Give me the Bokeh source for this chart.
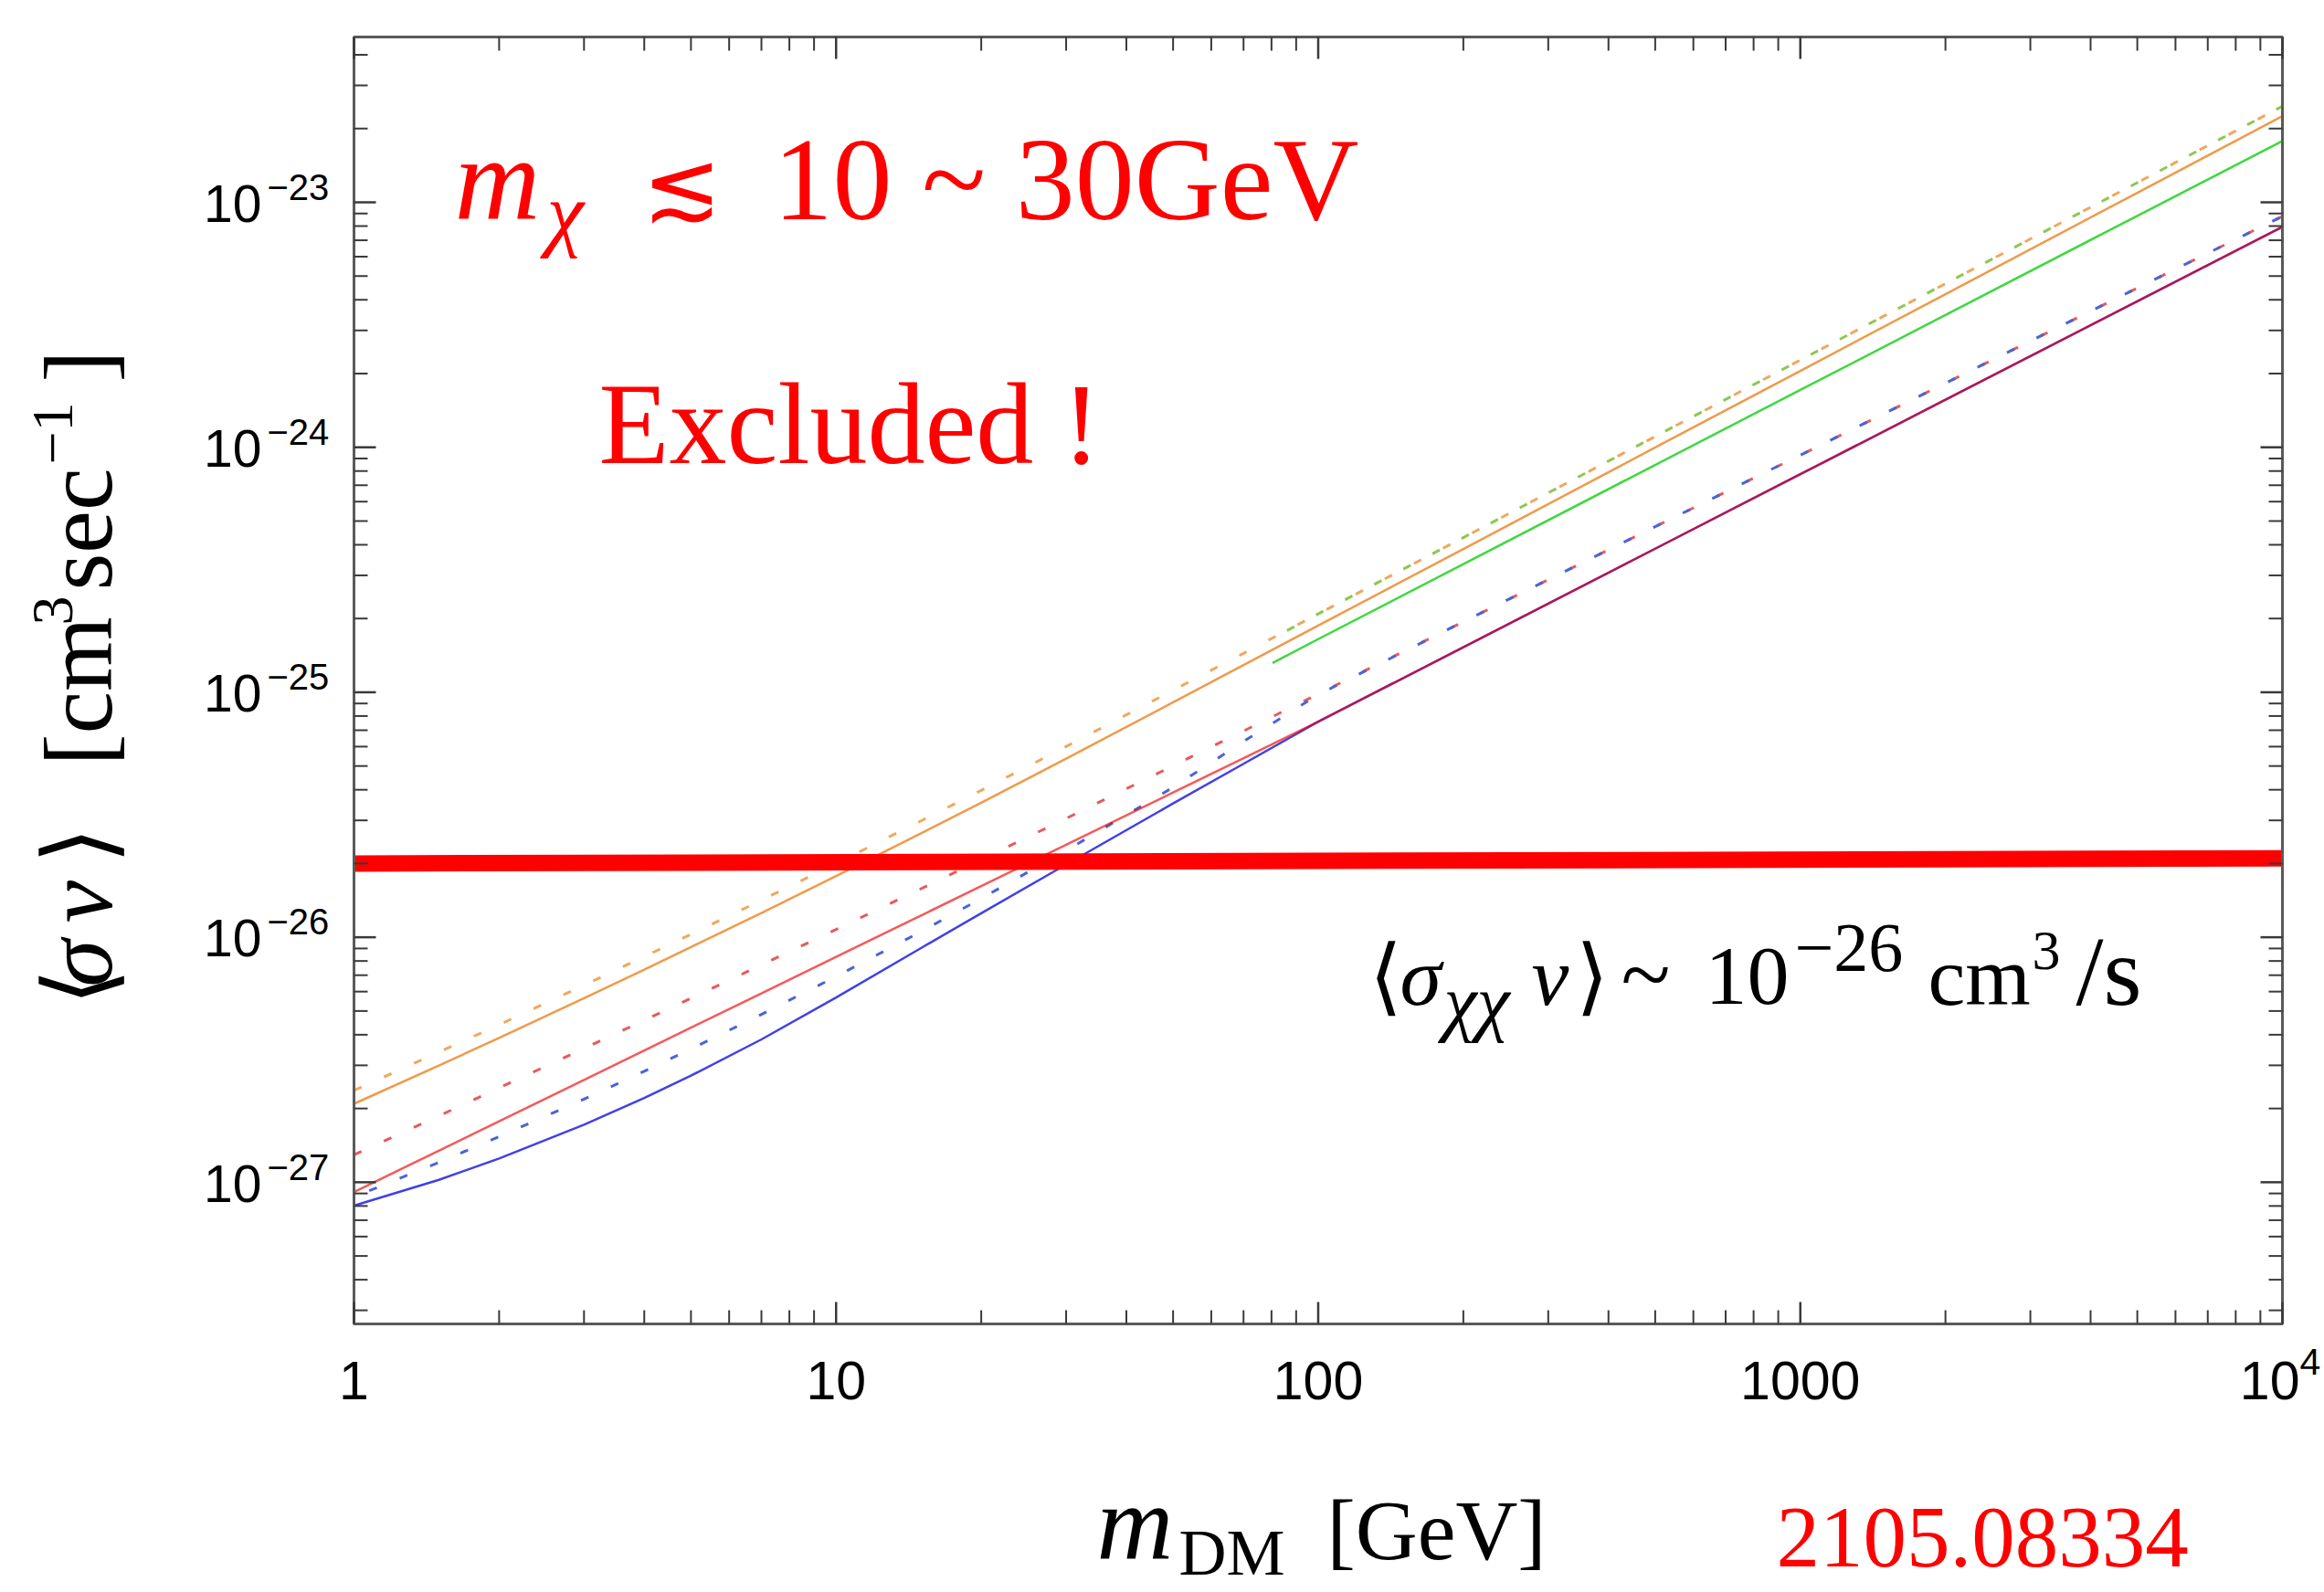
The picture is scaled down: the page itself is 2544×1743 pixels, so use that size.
import math
from bokeh.plotting import figure
from bokeh.models import Range1d, Label
from bokeh.embed import file_html
from bokeh.resources import INLINE

# ---------------- data ----------------
# dark-matter mass [GeV]
mass = [1, 1.5, 2, 3, 4, 5, 7, 10, 15, 20, 30, 50, 70, 100, 200, 500, 1000, 2000, 5000, 10000]

# <sigma v> [cm^3 / s]
orange_solid = [2.09e-27, 2.996e-27, 3.88e-27, 5.64e-27, 7.379e-27, 9.12e-27, 1.256e-26, 1.778e-26,
                2.655e-26, 3.544e-26, 5.358e-26, 9.10e-26, 1.291e-25, 1.871e-25, 3.846e-25, 9.98e-25,
                2.051e-24, 4.217e-24, 1.094e-23, 2.249e-23]
orange_dotted = [2.371e-27, 3.396e-27, 4.395e-27, 6.368e-27, 8.337e-27, 1.028e-26, 1.416e-26, 2.0e-26,
                 2.985e-26, 3.976e-26, 6.005e-26, 1.019e-25, 1.442e-25, 2.089e-25, 4.28e-25, 1.107e-24,
                 2.270e-24, 4.656e-24, 1.203e-23, 2.466e-23]
red_solid = [9.12e-28, 1.346e-27, 1.774e-27, 2.618e-27, 3.451e-27, 4.276e-27, 5.902e-27, 8.318e-27,
             1.227e-26, 1.618e-26, 2.388e-26, 3.899e-26, 5.383e-26, 7.586e-26, 1.528e-25, 3.855e-25,
             7.762e-25, 1.563e-24, 3.945e-24, 7.943e-24]
red_dotted = [1.294e-27, 1.866e-27, 2.427e-27, 3.516e-27, 4.581e-27, 5.636e-27, 7.709e-27, 1.076e-26,
              1.578e-26, 2.075e-26, 3.055e-26, 5.012e-26, 6.950e-26, 9.840e-26, 1.941e-25, 4.742e-25,
              9.290e-25, 1.828e-24, 4.467e-24, 8.770e-24]
blue_solid = [8.02e-28, 1.023e-27, 1.250e-27, 1.718e-27, 2.208e-27, 2.723e-27, 3.828e-27, 5.675e-27,
              9.036e-27, 1.253e-26, 1.982e-26, 3.516e-26, 5.105e-26, 7.586e-26, 1.528e-25, 3.855e-25,
              7.762e-25, 1.563e-24, 3.945e-24, 7.943e-24]
blue_dotted = [8.71e-28, 1.205e-27, 1.535e-27, 2.183e-27, 2.838e-27, 3.499e-27, 4.842e-27, 6.918e-27,
               1.054e-26, 1.439e-26, 2.259e-26, 4.093e-26, 6.30e-26, 9.78e-26, 1.941e-25, 4.742e-25,
               9.290e-25, 1.828e-24, 4.467e-24, 8.770e-24]

green_mass = [80.4, 100, 200, 500, 1000, 2000, 5000, 10000]
green_solid = [1.318e-25, 1.648e-25, 3.334e-25, 8.472e-25, 1.714e-24, 3.467e-24, 8.810e-24, 1.778e-23]
green_dotted = [1.660e-25, 2.089e-25, 4.28e-25, 1.107e-24, 2.270e-24, 4.656e-24, 1.203e-23, 2.466e-23]

band_mass = [1, 10000]
band_sigma_v = [2.0e-26, 2.1e-26]

x_ticks = [1, 10, 100, 1000, 10000]
x_tick_labels = ["1", "10", "100", "1000", "10"]
x_tick_powers = ["", "", "", "", "4"]
y_ticks = [1e-27, 1e-26, 1e-25, 1e-24, 1e-23]
y_tick_labels = ["10", "10", "10", "10", "10"]
y_tick_powers = ["\u221227", "\u221226", "\u221225", "\u221224", "\u221223"]

# ---------------- layout ----------------
W, H = 2544, 1743
FL, FR, FT, FB = 387, 2498, 40, 1449          # plot frame edges on the page (px)
X_LO, X_HI = 1, 1e4
Y_LO, Y_HI = 2.64e-28, 4.73e-23
K = 0.345                                     # text anchor sits ~0.345 em above the baseline

# the Bokeh frame covers the whole page so that every text can be drawn;
# extend the log ranges so the data box lands on the frame edges above
ppx = (FR - FL) / (math.log10(X_HI) - math.log10(X_LO))
ppy = (FB - FT) / (math.log10(Y_HI) - math.log10(Y_LO))
cx0 = 10 ** (math.log10(X_LO) - FL / ppx)
cx1 = 10 ** (math.log10(X_HI) + (W - FR) / ppx)
cy0 = 10 ** (math.log10(Y_LO) - (H - FB) / ppy)
cy1 = 10 ** (math.log10(Y_HI) + FT / ppy)

p = figure(width=W, height=H, x_axis_type="log", y_axis_type="log",
           x_axis_location=None, y_axis_location=None,
           x_range=Range1d(cx0, cx1), y_range=Range1d(cy0, cy1),
           output_backend="svg", toolbar_location=None, min_border=0,
           background_fill_color="white", border_fill_color="white")
p.xgrid.visible = False
p.ygrid.visible = False
p.outline_line_color = None

DOT = "9 27"

# dotted curves
p.line(mass, orange_dotted, line_color="#efa85e", line_width=3, line_dash=DOT, line_cap="butt")
p.line(green_mass, green_dotted, line_color="#8cc850", line_width=3, line_dash=DOT,
       line_dash_offset=18, line_cap="butt")
p.line(mass, red_dotted, line_color="#e85a5a", line_width=3, line_dash=DOT, line_cap="butt")
p.line(mass, blue_dotted, line_color="#4a64d8", line_width=3, line_dash=DOT,
       line_dash_offset=18, line_cap="butt")

# solid curves
p.line(mass, orange_solid, line_color="#f09a4a", line_width=2.5)
p.line(green_mass, green_solid, line_color="#3ed83e", line_width=2.5)
p.line(mass, blue_solid, line_color="#0000e0", line_alpha=0.75, line_width=2.5)
p.line(mass, red_solid, line_color="#f00000", line_alpha=0.65, line_width=2.5)

# thermal relic band
p.line(band_mass, band_sigma_v, line_color="#ff0000", line_width=18, line_cap="butt")

# ---------------- frame and inward ticks (Mathematica style) ----------------
FRAME = "#5a5a5a"
TICK = "#3a3a3a"
p.quad(left=[X_LO], right=[X_HI], bottom=[Y_LO], top=[Y_HI],
       fill_color=None, line_color=FRAME, line_width=3)

x_minor = [k * 10.0 ** e for e in range(0, 4) for k in range(2, 10)]
y_minor = [k * 10.0 ** e for e in range(-28, -22) for k in range(2, 10)
           if Y_LO < k * 10.0 ** e < Y_HI]

MAJ, MIN = 24, 15
fy_maj, fy_min = 10 ** (MAJ / ppy), 10 ** (MIN / ppy)
fx_maj, fx_min = 10 ** (MAJ / ppx), 10 ** (MIN / ppx)


def xticks(vals, f, lw):
    n = len(vals)
    p.segment(x0=vals, y0=[Y_LO] * n, x1=vals, y1=[Y_LO * f] * n, line_color=TICK, line_width=lw)
    p.segment(x0=vals, y0=[Y_HI] * n, x1=vals, y1=[Y_HI / f] * n, line_color=TICK, line_width=lw)


def yticks(vals, f, lw):
    n = len(vals)
    p.segment(x0=[X_LO] * n, y0=vals, x1=[X_LO * f] * n, y1=vals, line_color=TICK, line_width=lw)
    p.segment(x0=[X_HI] * n, y0=vals, x1=[X_HI / f] * n, y1=vals, line_color=TICK, line_width=lw)


xticks(x_ticks, fy_maj, 2.5)
xticks(x_minor, fy_min, 2)
yticks(y_ticks, fx_maj, 2.5)
yticks(y_minor, fx_min, 2)


# ---------------- texts ----------------
def put(text, X, Y, size, color="black", font="Liberation Serif", style="normal",
        align="left", angle=0.0):
    """Text whose baseline starts at page pixel (X, Y)."""
    if angle:
        dx, dy = X - K * size - FL, FB - Y
    else:
        dx, dy = X - FL, FB - Y + K * size
    p.add_layout(Label(x=X_LO, y=Y_LO, x_offset=dx, y_offset=dy, text=text,
                       text_font=font, text_font_size=f"{size}px", text_font_style=style,
                       text_color=color, text_align=align, text_baseline="alphabetic",
                       angle=angle))


# y tick labels
for v, lab, pw in zip(y_ticks, y_tick_labels, y_tick_powers):
    p.add_layout(Label(x=X_LO, y=v, x_offset=286 - FL, y_offset=-21 + K * 57, text=lab,
                       text_font="Liberation Sans", text_font_size="57px",
                       text_align="right", text_baseline="alphabetic", text_color="black"))
    p.add_layout(Label(x=X_LO, y=v, x_offset=292 - FL, y_offset=3 + K * 40, text=pw,
                       text_font="Liberation Sans", text_font_size="40px",
                       text_align="left", text_baseline="alphabetic", text_color="black"))

# x tick labels
for v, lab, pw in zip(x_ticks, x_tick_labels, x_tick_powers):
    if pw:
        p.add_layout(Label(x=v, y=Y_LO, x_offset=19, y_offset=FB - 1531 + K * 59, text=lab,
                           text_font="Liberation Sans", text_font_size="59px",
                           text_align="right", text_baseline="alphabetic", text_color="black"))
        p.add_layout(Label(x=v, y=Y_LO, x_offset=19, y_offset=FB - 1505 + K * 41, text=pw,
                           text_font="Liberation Sans", text_font_size="41px",
                           text_align="left", text_baseline="alphabetic", text_color="black"))
    else:
        p.add_layout(Label(x=v, y=Y_LO, x_offset=0, y_offset=FB - 1531 + K * 59, text=lab,
                           text_font="Liberation Sans", text_font_size="59px",
                           text_align="center", text_baseline="alphabetic", text_color="black"))

# x axis title: m_DM [GeV]
put("m", 1200, 1707, 116, style="italic")
put("DM", 1290, 1724, 72)
put("[GeV]", 1452, 1707, 94)

# y axis title: <sigma v> [cm^3 sec^-1], rotated
A = math.pi / 2
put("\u27e8", 122, 1100, 105, angle=A)
put("\u03c3", 122, 1080, 105, style="italic", angle=A)
put("v", 122, 1010, 105, style="italic", angle=A)
put("\u27e9", 122, 945, 105, angle=A)
put("[cm", 122, 838, 105, angle=A)
put("3", 80, 684, 64, angle=A)
put("sec", 122, 646, 105, angle=A)
put("\u22121", 80, 508, 64, angle=A)
put("]", 122, 418, 105, angle=A)

RED = "#ff0000"
# m_chi <~ 10 ~ 30GeV
put("m", 497, 240, 130, color=RED, style="italic")
put("\u03c7", 598, 264, 92, color=RED, style="italic")
put("\u2272", 702, 238, 104, color=RED, font="DejaVu Serif")
put("10 ~ 30GeV", 846, 240, 130, color=RED)

put("Excluded !", 655, 507, 126, color=RED)

# <sigma_chichi v> ~ 10^-26 cm^3/s
put("\u27e8", 1498, 1100, 92)
put("\u03c3", 1532, 1100, 92, style="italic")
put("\u03c7\u03c7", 1580, 1124, 82, style="italic")
put("v", 1676, 1100, 92, style="italic")
put("\u27e9", 1724, 1100, 92)
put("~", 1774, 1100, 100)
put("10", 1866, 1100, 92)
put("\u221226", 1964, 1064, 76)
put("cm", 2110, 1100, 92)
put("3", 2224, 1062, 62)
put("/s", 2272, 1100, 108)

put("2105.08334", 1944, 1716, 95, color=RED)

open("out.html", "w").write(file_html(p, INLINE))
